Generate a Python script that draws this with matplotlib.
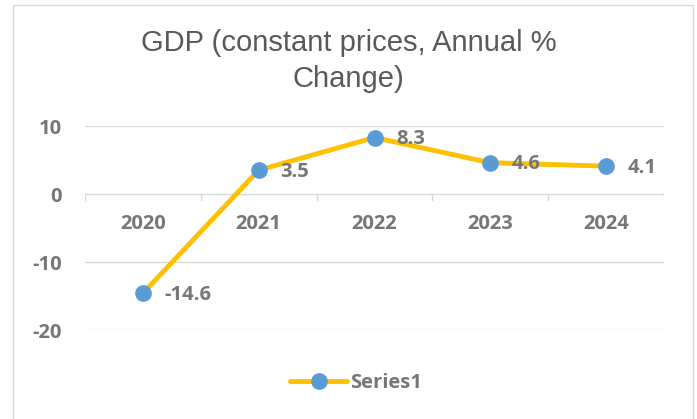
import matplotlib
matplotlib.use("Agg")
import matplotlib.pyplot as plt
from matplotlib.patches import Rectangle
from matplotlib.lines import Line2D

plt.rcParams["axes.unicode_minus"] = False

years = ["2020", "2021", "2022", "2023", "2024"]
gdp = [-14.6, 3.5, 8.3, 4.6, 4.1]
yticks = [-20, -10, 0, 10]
title = "GDP (constant prices, Annual %\nChange)"
series_name = "Series1"

LBL_FONT = "Open Sans"
LBL_SIZE = 14.5
LBL_COLOR = "#767676"

fig = plt.figure(figsize=(6.97, 4.19), dpi=100)
fig.patch.set_facecolor("white")
fig.add_artist(Rectangle((13/697, -0.1), (693-13)/697, 1.1 - 5/419, transform=fig.transFigure,
                         fill=False, edgecolor="#d9d9d9", linewidth=1.0))

ax = fig.add_axes([85/697, 1-330/419, (664-85)/697, (330-126)/419])
x = list(range(len(years)))
ax.set_xlim(-0.5, len(years)-0.5)
ax.set_ylim(-20, 10)
for yv in yticks:
    ax.axhline(yv, color="#d9d9d9", linewidth=1.0, zorder=0)
for s in ax.spines.values():
    s.set_visible(False)
ax.set_xticks([])
ax.set_yticks(yticks)
ax.tick_params(axis="y", length=0, pad=16.5)
for lab in ax.get_yticklabels():
    lab.set_fontfamily(LBL_FONT)
    lab.set_fontweight("bold")
    lab.set_fontsize(LBL_SIZE)
    lab.set_color(LBL_COLOR)

# category boundary tick marks on zero line
for b in [i - 0.5 for i in range(len(years)+1)]:
    ax.plot([b, b], [0, -0.9], color="#d9d9d9", linewidth=1.0, zorder=0)
for xi, yr in zip(x, years):
    ax.text(xi, -4.4, yr, ha="center", va="center", fontfamily=LBL_FONT,
            fontweight="bold", fontsize=LBL_SIZE, color=LBL_COLOR)

ax.plot(x, gdp, color="#FFC000", linewidth=3.5, marker="o", markersize=11,
        markerfacecolor="#5B9BD5", markeredgecolor="#5B9BD5", zorder=3,
        solid_capstyle="round")
for xi, v in zip(x, gdp):
    ax.annotate(f"{v}", (xi, v), xytext=(15.5, -1), textcoords="offset points",
                ha="left", va="center", fontfamily=LBL_FONT, fontweight="bold",
                fontsize=LBL_SIZE, color=LBL_COLOR, zorder=4)

fig.text(0.5, 1-61/419, title, ha="center", va="center", fontfamily="Liberation Sans",
         fontsize=21, color="#595959", linespacing=1.32)

handle = Line2D([], [], color="#FFC000", linewidth=3.5, marker="o", markersize=11,
                markerfacecolor="#5B9BD5", markeredgecolor="#5B9BD5", solid_capstyle="round")
leg = fig.legend([handle], [series_name], loc="center", bbox_to_anchor=(356/697, 1-383/419),
                 frameon=False, prop={"family": LBL_FONT, "weight": "bold", "size": LBL_SIZE},
                 handlelength=2.8, handletextpad=0.15, borderpad=0)
for t in leg.get_texts():
    t.set_color(LBL_COLOR)

fig.savefig("out.png", dpi=100)
